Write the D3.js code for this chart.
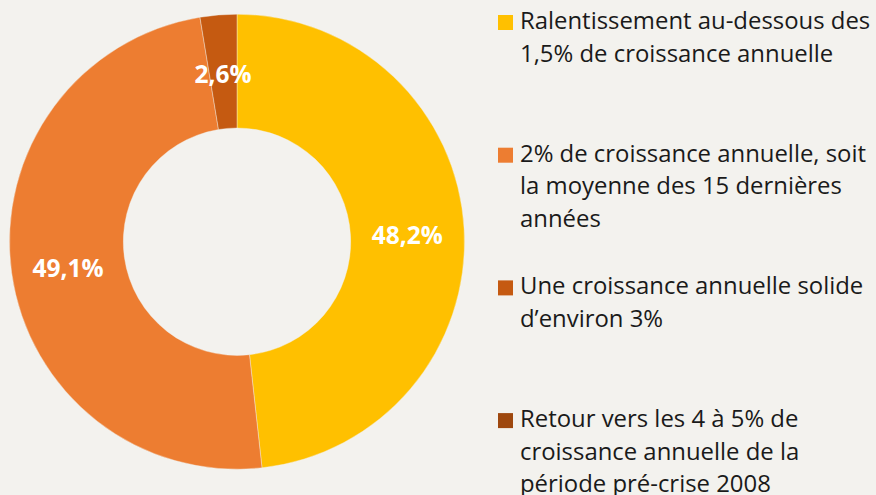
<!DOCTYPE html>
<html>
<head>
<meta charset="utf-8">
<script src="https://cdn.jsdelivr.net/npm/d3@7"></script>
<style>
  body { margin: 0; background: #f3f2ee; }
  svg { display: block; font-family: "Open Sans", "Noto Sans", sans-serif; }
</style>
</head>
<body>
<div id="chart"></div>
<script>
var width = 876,
    height = 495;

// data
var categories = [
  "Ralentissement au-dessous des 1,5% de croissance annuelle",
  "2% de croissance annuelle, soit la moyenne des 15 dernières années",
  "Une croissance annuelle solide d’environ 3%",
  "Retour vers les 4 à 5% de croissance annuelle de la période pré-crise 2008"
];
var values = [48.2, 49.1, 2.6, 0];
var valueLabels = ["48,2%", "49,1%", "2,6%", ""];
var legendLines = [
  ["Ralentissement au-dessous des", "1,5% de croissance annuelle"],
  ["2% de croissance annuelle, soit", "la moyenne des 15 dernières", "années"],
  ["Une croissance annuelle solide", "d’environ 3%"],
  ["Retour vers les 4 à 5% de", "croissance annuelle de la", "période pré-crise 2008"]
];
var colors = ["#ffc000", "#ed7d31", "#c55a11", "#9e480e"];

var color = d3.scaleOrdinal().domain(categories).range(colors);

var cx = 237, cy = 241.7,
    outerR = 227.5, innerR = 113.7;

var svg = d3.select("#chart")
    .append("svg")
    .attr("width", width)
    .attr("height", height);

svg.append("rect")
    .attr("width", width)
    .attr("height", height)
    .attr("fill", "#f3f2ee");

var pieData = categories.map(function (c, i) {
    return { name: c, value: values[i], label: valueLabels[i] };
});

var pie = d3.pie()
    .sort(null)
    .value(function (d) { return d.value; });

var arc = d3.arc()
    .innerRadius(innerR)
    .outerRadius(outerR);

var g = svg.append("g")
    .attr("transform", "translate(" + cx + "," + cy + ")");

var slices = pie(pieData).filter(function (d) { return d.data.value > 0; });

g.selectAll("path")
    .data(slices)
    .enter()
    .append("path")
    .attr("d", arc)
    .attr("fill", function (d) { return color(d.data.name); })
    .attr("stroke", "#f3f2ee")
    .attr("stroke-width", 0.4);

g.selectAll("text.val")
    .data(slices)
    .enter()
    .append("text")
    .attr("class", "val")
    .attr("transform", function (d) {
        var c = arc.centroid(d);
        return "translate(" + c[0] + "," + (c[1] + 3) + ")";
    })
    .attr("text-anchor", "middle")
    .attr("dy", "0.35em")
    .attr("fill", "#fff")
    .attr("font-weight", "bold")
    .attr("font-size", "24.5px")
    .text(function (d) { return d.data.label; });

// legend
var legendX = 498,
    legendY = 29,
    itemStep = 132.7,
    lineH = 32.5;

var legend = svg.append("g")
    .selectAll("g")
    .data(categories)
    .enter()
    .append("g")
    .attr("transform", function (d, i) {
        return "translate(" + legendX + "," + (legendY + i * itemStep) + ")";
    });

legend.append("rect")
    .attr("x", 0)
    .attr("y", -14)
    .attr("width", 15)
    .attr("height", 15)
    .attr("fill", function (d) { return color(d); });

legend.append("text")
    .attr("x", 22)
    .attr("font-size", "23.9px")
    .attr("fill", "#1a1a1a")
    .selectAll("tspan")
    .data(function (d, i) { return legendLines[i]; })
    .enter()
    .append("tspan")
    .attr("x", 22)
    .attr("y", function (d, j) { return j * lineH; })
    .text(function (d) { return d; });
</script>
</body>
</html>
